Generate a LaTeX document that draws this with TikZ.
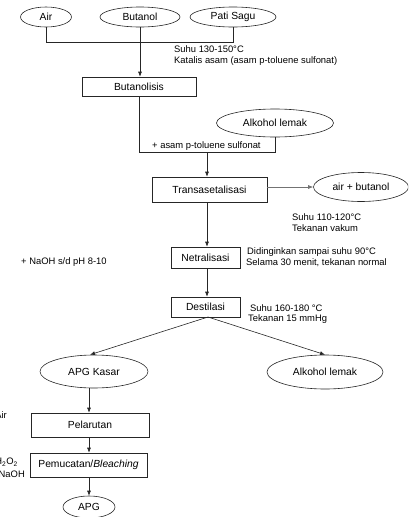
\documentclass[tikz,border=0pt]{standalone}
\usepackage{fontspec}
\setmainfont{Liberation Sans}
\usetikzlibrary{shapes.geometric,arrows.meta}
\begin{document}
\begin{tikzpicture}[x=1pt,y=-1pt,
  ln/.style={draw=black!85,line width=0.6pt},
  arr/.style={ln,-{Latex[length=5pt,width=4pt]}},
  ell/.style={ellipse,draw=black!85,line width=0.6pt,inner sep=0pt,font=\fontsize{10.3}{12}\selectfont},
  box/.style={rectangle,draw=black!85,line width=0.6pt,inner sep=0pt,font=\fontsize{10.3}{12}\selectfont},
  note/.style={inner sep=0pt,anchor=west,font=\fontsize{9.4}{11}\selectfont}]
\clip (0,0) rectangle (408,517);
\useasboundingbox (0,0) rectangle (408,517);
% top inputs
\node[ell,minimum width=51pt,minimum height=20pt] (air) at (46,17) {Air};
\node[ell,minimum width=80pt,minimum height=20pt] (buta) at (140,17) {Butanol};
\node[ell,minimum width=86pt,minimum height=20pt] (pati) at (233,17) {Pati Sagu};
\node[box,minimum width=114pt,minimum height=19pt] (butl) at (139,86.5) {Butanolisis};
\node[note] (n1) at (174,49) {Suhu 130-150°C};
\node[note] (n2) at (174,61) {Katalis asam (asam p-toluene sulfonat)};
\draw[ln] (air.south) |- (pati.south |- 0,42) -- (pati.south);
\draw[arr] (buta.south) -- (buta.south |- butl.north);
% transasetalisasi
\node[ell,minimum width=117pt,minimum height=28pt] (al1) at (275,123) {Alkohol lemak};
\node[note,anchor=south west] (n3) at (152,151) {+ asam p-toluene sulfonat};
\draw[ln] (butl.south) |- (al1.south |- 0,152) -- (al1.south);
\coordinate (m) at (207,152);
\node[box,minimum width=115pt,minimum height=25pt] (trans) at (209.5,189.5) {Transasetalisasi};
\draw[arr] (m) -- (m |- trans.north);
\node[ell,minimum width=95pt,minimum height=29pt] (ab) at (361,187) {air + butanol};
\draw[arr,draw=black!55] (trans.east |- ab.west) -- (ab.west);
\node[note] (n4) at (292,217) {Suhu 110-120°C};
\node[note] (n5) at (292,228) {Tekanan vakum};
% netralisasi
\node[box,minimum width=69pt,minimum height=21pt] (netr) at (205.5,257.5) {Netralisasi};
\draw[arr] (m |- trans.south) -- (m |- netr.north);
\node[note] (n6) at (21,262) {+ NaOH s/d pH 8-10};
\node[note] (n7) at (247,252) {Didinginkan sampai suhu 90°C};
\node[note] (n8) at (246,263) {Selama 30 menit, tekanan normal};
% destilasi
\node[box,minimum width=69pt,minimum height=20pt] (dest) at (205.5,307) {Destilasi};
\draw[arr] (m |- netr.south) -- (m |- dest.north);
\node[note] (n9) at (250,308) {Suhu 160-180 °C};
\node[note] (n10) at (248,319) {Tekanan 15 mmHg};
% products
\node[ell,minimum width=108pt,minimum height=33pt] (apgk) at (94,371.5) {APG Kasar};
\node[ell,minimum width=116pt,minimum height=34pt] (al2) at (325,372) {Alkohol lemak};
\coordinate (d0) at (208,317);
\draw[arr] (d0) -- ([xshift=-4pt]apgk.north);
\draw[arr] (d0) -- (al2.north);
% purification
\coordinate (c) at (89,0);
\node[box,minimum width=118pt,minimum height=24pt] (pel) at (90,425) {Pelarutan};
\node[box,minimum width=117pt,minimum height=24pt] (pem) at (88.5,465) {Pemucatan/\textit{Bleaching}};
\node[ell,minimum width=52pt,minimum height=22pt] (apg) at (89,507) {APG};
\draw[arr] (c |- apgk.south) -- (c |- pel.north);
\draw[arr] (c |- pel.south) -- (c |- pem.north);
\draw[arr] (c |- pem.south) -- (c |- apg.north);
\node[note,anchor=east] (n11) at (7,415) {Air};
\node[note,anchor=east] (n12) at (18,462) {H\textsubscript{2}O\textsubscript{2}};
\node[note,anchor=east] (n13) at (25,474) {NaOH};
\end{tikzpicture}
\end{document}
